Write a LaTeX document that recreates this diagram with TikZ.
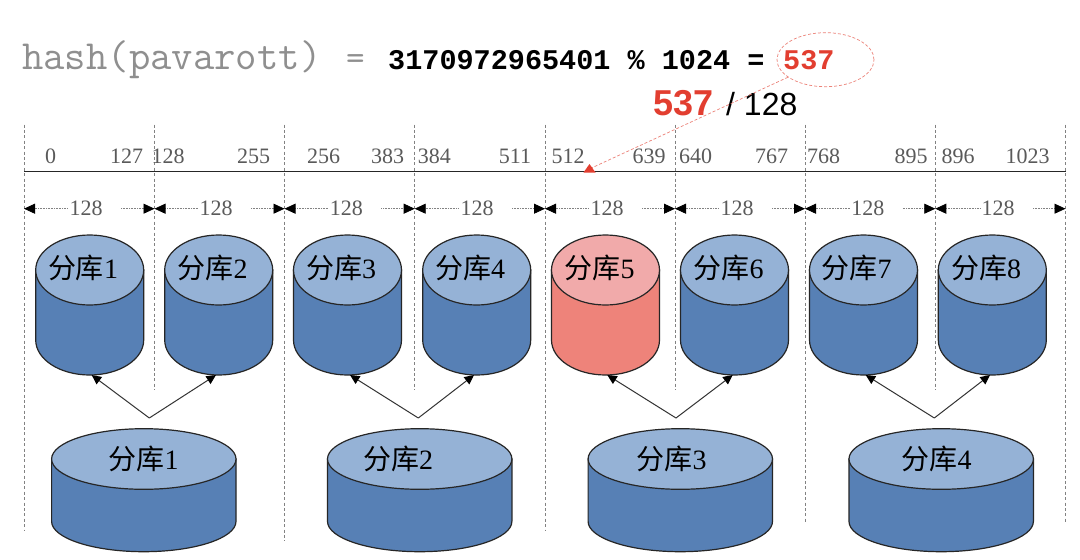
\documentclass[tikz,border=0pt]{standalone}
\usepackage{fontspec}
\setmainfont{Liberation Serif}
\setmonofont{Liberation Mono}
\setsansfont{Liberation Sans}
\newfontfamily\cjkfont{Noto Sans CJK SC}
\newfontfamily\slabmono{Latin Modern Mono}
\usetikzlibrary{shapes.geometric,arrows.meta}
\definecolor{topblue}{RGB}{149,178,214}
\definecolor{bodyblue}{RGB}{87,128,181}
\definecolor{toppink}{RGB}{241,170,170}
\definecolor{bodypink}{RGB}{238,131,122}
\definecolor{hashred}{RGB}{226,62,48}
\definecolor{guide}{RGB}{130,130,130}
\definecolor{ink}{RGB}{90,90,90}
\tikzset{
  guideline/.style={guide,line width=0.8pt,dash pattern=on 3pt off 2.4pt},
  ticklabel/.style={text=ink,font=\fontsize{22}{22}\selectfont,inner sep=0pt,anchor=base},
  spanlabel/.style={text=ink,font=\fontsize{22}{22}\selectfont,inner ysep=0pt,inner xsep=1pt,anchor=base},
  spanline/.style={guide,line width=0.8pt,dash pattern=on 1pt off 0.6pt},
  dblabel/.style={font=\fontsize{28}{28}\selectfont,text=black,inner sep=0pt,anchor=base},
  link/.style={-{Triangle[length=9.5pt,width=9pt,black]},black!80,line width=1pt},
  reddash/.style={hashred!65!white,line width=.7pt,dash pattern=on 3pt off 2pt},
}
% name, cx, top cy, rx, ry, height, top colour, body colour
\newcommand{\dbcyl}[8]{%
  \path[fill=#8,draw=black!85,line width=1.2pt]
    (#2-#4,#3) -- (#2-#4,#3+#6) arc[start angle=180,end angle=360,x radius=#4pt,y radius=#5pt]
    -- (#2+#4,#3) -- cycle;
  \node[ellipse,minimum width=#4*2pt,minimum height=#5*2pt,inner sep=0pt,
    fill=#7,draw=black!85,line width=1.2pt] (#1) at (#2,#3) {};
  \coordinate (#1-b) at (#2,#3+#6+#5);
}
\newcommand{\dbtext}[1]{{\cjkfont 分库}#1}
\begin{document}
\begin{tikzpicture}[x=1pt,y=-1pt]
\useasboundingbox (0,0) rectangle (1080,560);
\fill[white] (0,0) rectangle (1080,560);
% guides
\foreach \i/\x/\b in {a/24/530,b/154.5/390,c/284.5/540.5,d/414.7/390,e/545/530,f/675/390,g/805/522,h/935.3/390,j/1065.5/522}{
  \coordinate (gt\i) at (\x,124.5);
  \coordinate (gb\i) at (\x,\b);
  \draw[guideline] (gt\i) -- (gb\i);
}
% formula
\node[anchor=base west,inner sep=0pt,text=guide!90!white,font=\slabmono\fontsize{41.5}{41.5}\selectfont] (hash) at (22,69) {hash(pavarott)};
\node[anchor=base,inner sep=0pt,text=guide!90!white,font=\slabmono\fontsize{36}{36}\selectfont] (eq) at (355.5,69) {=};
\node[anchor=base west,inner sep=0pt,font=\ttfamily\bfseries\fontsize{28.5}{28.5}\selectfont] (val) at (388,69) {3170972965401 \% 1024 =};
\node[anchor=base west,inner sep=0pt,text=hashred,font=\ttfamily\bfseries\fontsize{28.5}{28.5}\selectfont] (res) at (783,69) {537};
\node[ellipse,draw,reddash,minimum width=97pt,minimum height=54pt,inner sep=0pt] (circ) at (825.5,59.7) {};
\node[anchor=base west,inner sep=0pt,text=hashred,font=\sffamily\bfseries\fontsize{36}{36}\selectfont] (a) at (653,115) {537};
\node[anchor=base west,inner sep=0pt,font=\sffamily\fontsize{32}{32}\selectfont] (b) at (726,115) {/ 128};
% axis
\coordinate (axl) at (24,171.7);
\coordinate (axr) at (1065.5,171.7);
\draw[black!85,line width=1.2pt] (axl) -- (axr);
\coordinate (hit) at (591.5,168);
\draw[reddash] (circ.205) -- (hit);
\fill[hashred] (583.5,172.5) -- (595.5,172.5) -- (589.5,164) -- cycle;
% ticks
\foreach \i/\x/\t in {a/50.6/0,b/126.6/127,c/168/128,d/253.6/255,e/323.7/256,f/387.6/383,g/434.4/384,h/515/511,j/568/512,k/649/639,l/695.5/640,m/771.6/767,n/823.7/768,o/911/895,p/958/896,q/1027.5/1023}{
  \node[ticklabel] (t\i) at (\x,163.3) {\t};
}
% spans
\foreach \i/\l/\m/\r in {a/24/86/154.5,b/154.5/216/284.5,c/284.5/346.4/414.7,d/414.7/477/545,e/545/607/675,f/675/737/805,g/805/867.8/935.3,h/935.3/998/1065.5}{
  \coordinate (sl\i) at (\l,208.7);
  \coordinate (sr\i) at (\r,208.7);
  \node[spanlabel] (n\i) at (\m,215.7) {128};
  \coordinate (nl\i) at (\m-18,208.7);
  \coordinate (nr\i) at (\m+35,208.7);
  \draw[spanline,{Triangle[length=11pt,width=10pt,black]}-] (sl\i) -- (nl\i);
  \draw[spanline,-{Triangle[length=11pt,width=10pt,black]}] (nr\i) -- (sr\i);
}
% small cylinders
\foreach \n/\x in {s1/89.7,s2/218.7,s3/347.5,s4/476.7,s6/734.5,s7/863.5,s8/992.3}{
  \dbcyl{\n}{\x}{270}{54}{35}{70}{topblue}{bodyblue}
}
\dbcyl{s5}{605.5}{270}{54}{35}{70}{toppink}{bodypink}
\foreach \n/\x/\d in {a/83/1,b/212.5/2,c/341/3,d/470/4,e/599.5/5,f/728.7/6,g/856.7/7,h/986/8}{
  \node[dblabel] (ls\n) at (\x,278) {\dbtext{\d}};
}
% large cylinders
\foreach \n/\x in {b1/143.8,b2/419.7,b3/680.3,b4/941.2}{
  \dbcyl{\n}{\x}{459}{92.2}{30.3}{62.4}{topblue}{bodyblue}
}
\foreach \n/\x/\d in {a/143.5/1,b/398/2,c/671.7/3,d/936.7/4}{
  \node[dblabel] (lb\n) at (\x,469.3) {\dbtext{\d}};
}
% connectors
\coordinate (apa) at (149.3,418);
\coordinate (apb) at (418.3,418);
\coordinate (apc) at (676,418);
\coordinate (apd) at (934.3,418);
\draw[link] (apa) -- ([xshift=2pt]s1-b);
\draw[link] (apa) -- ([xshift=-2.7pt]s2-b);
\draw[link] (apb) -- ([xshift=2.5pt]s3-b);
\draw[link] (apb) -- ([xshift=-2.7pt]s4-b);
\draw[link] (apc) -- ([xshift=1.8pt]s5-b);
\draw[link] (apc) -- ([xshift=-1.8pt]s6-b);
\draw[link] (apd) -- ([xshift=2.2pt]s7-b);
\draw[link] (apd) -- ([xshift=-2.3pt]s8-b);
\end{tikzpicture}
\end{document}
